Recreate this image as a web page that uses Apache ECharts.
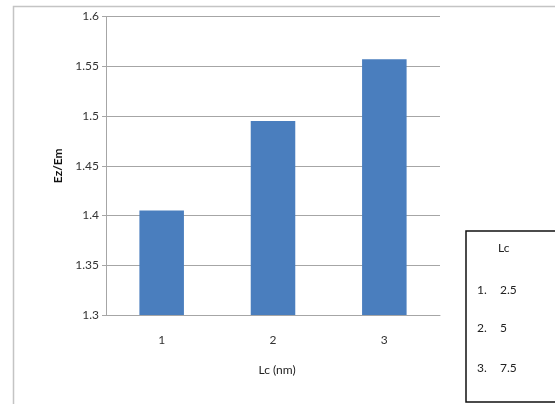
<!DOCTYPE html>
<html><head><meta charset="utf-8">
<script src="https://cdn.jsdelivr.net/npm/echarts@6/dist/echarts.min.js"></script>
<style>html,body{margin:0;padding:0;background:#fff}#c{width:555px;height:404px}</style>
</head><body><div id="c"></div>
<script>
const categories = ['1', '2', '3'];
const values = [1.405, 1.495, 1.557];
const yTicks = [1.3, 1.35, 1.4, 1.45, 1.5, 1.55, 1.6];
const legendTitle = 'Lc';
const legendNums = ['1.', '2.', '3.'];
const legendVals = ['2.5', '5', '7.5'];

const FONT = 'Lato';
const chart = echarts.init(document.getElementById('c'));
const legendItems = [];
legendItems.push({type:'text', left:498, top:242, style:{text:legendTitle, font:'12px '+FONT, fill:'#222'}});
const rowY = [284, 322, 362];
legendNums.forEach((n,i)=>{
  legendItems.push({type:'text', left:477, top:rowY[i], style:{text:n, font:'12px '+FONT, fill:'#222'}});
  legendItems.push({type:'text', left:500, top:rowY[i], style:{text:legendVals[i], font:'12px '+FONT, fill:'#222'}});
});
chart.setOption({
  animation:false,
  grid:{left:106, right:115, top:16.5, bottom:89},
  xAxis:{type:'category', data:categories, name:'Lc (nm)', nameLocation:'middle', nameGap:49,
    nameTextStyle:{fontSize:12, fontFamily:FONT, color:'#222', padding:[0,0,0,8]},
    axisLine:{lineStyle:{color:'#a6a6a6'}}, axisTick:{show:false},
    axisLabel:{fontFamily:FONT, fontSize:12, color:'#333', margin:19}},
  yAxis:{type:'value', min:1.3, max:1.6, interval:0.05, name:'Ez/Em', nameLocation:'middle', nameGap:40,
    nameTextStyle:{fontFamily:FONT, fontSize:12, fontWeight:'bold', color:'#111'},
    axisLine:{show:true, lineStyle:{color:'#a6a6a6'}},
    axisTick:{show:true, length:4, lineStyle:{color:'#a6a6a6'}},
    splitLine:{lineStyle:{color:'#a6a6a6'}},
    axisLabel:{fontFamily:FONT, fontSize:12, color:'#333', margin:7,
      formatter:v=>{const t=yTicks.find(x=>Math.abs(x-v)<1e-9); return t===undefined?'':String(t);}}},
  series:[{type:'bar', data:values, barWidth:'40%', itemStyle:{color:'#4a7ebe'}}],
  graphic:[
    {type:'rect', shape:{x:13.5, y:6.5, width:600, height:500}, style:{fill:'none', stroke:'#c4c4c4', lineWidth:1.5}, z:-1},
    {type:'rect', shape:{x:466, y:231, width:100, height:171}, style:{fill:'#fff', stroke:'#111', lineWidth:1.5}},
    ...legendItems
  ]
});
</script></body></html>
